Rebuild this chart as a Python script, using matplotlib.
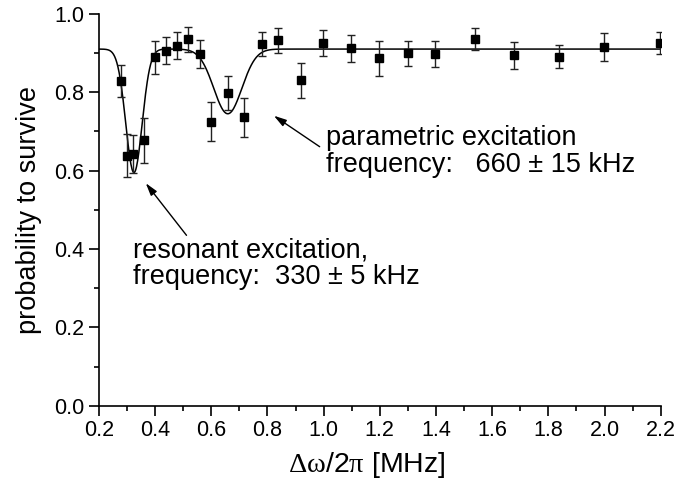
import numpy as np
import matplotlib
matplotlib.use("Agg")
import matplotlib.pyplot as plt
from matplotlib.ticker import MultipleLocator

plt.rcParams['font.family'] = ['Liberation Sans', 'DejaVu Sans']
plt.rcParams['mathtext.fontset'] = 'custom'
plt.rcParams['mathtext.rm'] = 'Liberation Serif'
plt.rcParams['mathtext.it'] = 'Liberation Serif:italic'

# measured points (detuning in MHz, survival probability, error)
freq = [0.278, 0.300, 0.320, 0.360, 0.399, 0.438, 0.479, 0.519, 0.559, 0.599,
        0.659, 0.718, 0.779, 0.838, 0.918, 0.998, 1.099, 1.198, 1.299, 1.398,
        1.538, 1.678, 1.838, 1.997, 2.198]
surv = [0.829, 0.638, 0.643, 0.677, 0.889, 0.906, 0.919, 0.935, 0.897, 0.725,
        0.798, 0.736, 0.923, 0.932, 0.830, 0.926, 0.912, 0.886, 0.899, 0.897,
        0.935, 0.894, 0.891, 0.915, 0.926]
err = [0.041, 0.055, 0.048, 0.058, 0.042, 0.035, 0.034, 0.032, 0.035, 0.050,
       0.044, 0.050, 0.031, 0.033, 0.045, 0.033, 0.034, 0.044, 0.032, 0.033,
       0.028, 0.035, 0.030, 0.035, 0.028]

# fit: baseline minus two gaussian dips (center, depth, sigma)
fit_base = 0.91
fit_dips = [(0.325, 0.315, 0.029), (0.659, 0.165, 0.050)]

fig = plt.figure(figsize=(6.77, 4.92), dpi=100)
ax = fig.add_axes([0.146, 0.175, 0.830, 0.797])

xf = np.linspace(0.2, 2.2, 1000)
yf = np.full_like(xf, fit_base)
for c, d, s in fit_dips:
    yf -= d * np.exp(-(xf - c) ** 2 / (2 * s ** 2))
ax.plot(xf, yf, color='black', lw=1.1, zorder=2)

ax.errorbar(freq, surv, yerr=err, fmt='s', color='black', ms=5.5,
            ecolor='#222222', elinewidth=1.0, capsize=2.6, capthick=1.0, zorder=3)

ax.set_xlim(0.2, 2.2)
ax.set_ylim(0.0, 1.0)
ax.xaxis.set_major_locator(MultipleLocator(0.2))
ax.xaxis.set_minor_locator(MultipleLocator(0.1))
ax.yaxis.set_major_locator(MultipleLocator(0.2))
ax.yaxis.set_minor_locator(MultipleLocator(0.1))
ax.xaxis.set_major_formatter(plt.FormatStrFormatter('%.1f'))
ax.yaxis.set_major_formatter(plt.FormatStrFormatter('%.1f'))

for s in ['top', 'right']:
    ax.spines[s].set_visible(False)
for s in ['left', 'bottom']:
    ax.spines[s].set_linewidth(1.2)
ax.tick_params(which='major', direction='out', length=7, width=1.2, labelsize=15.5, pad=3.5)
ax.tick_params(which='minor', direction='out', length=3.5, width=1.2)

ax.set_xlabel(r'$\mathrm{\Delta\omega}$/2$\mathrm{\pi}$ [MHz]', fontsize=20.5)
ax.xaxis.set_label_coords(0.477, -0.112)
ax.set_ylabel('probability to survive', fontsize=19.5, labelpad=9)

arrow = dict(arrowstyle='-|>,head_length=0.75,head_width=0.22', color='black', lw=1.0,
             shrinkA=0, shrinkB=0)
ax.annotate('', xy=(0.823, 0.740), xytext=(0.986, 0.661), arrowprops=arrow)
ax.annotate('', xy=(0.367, 0.568), xytext=(0.512, 0.435), arrowprops=arrow)

ax.text(1.008, 0.716, 'parametric excitation\nfrequency:   660 \u00b1 15 kHz',
        fontsize=19.5, ha='left', va='top', linespacing=1.05)
ax.text(0.320, 0.430, 'resonant excitation,\nfrequency:  330 \u00b1 5 kHz',
        fontsize=19.5, ha='left', va='top', linespacing=1.05)

fig.savefig('out.png', dpi=100)
